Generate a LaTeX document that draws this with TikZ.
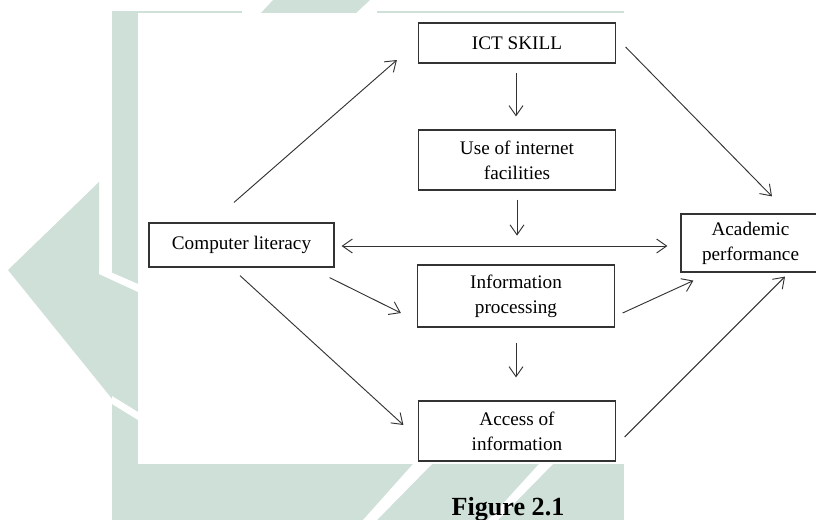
\documentclass[tikz,border=0pt]{standalone}
\usepackage{fontspec}
\setmainfont{Liberation Serif}
\usepackage{tikz}
\usetikzlibrary{arrows.meta, calc}
\definecolor{filigrane}{RGB}{206,224,215}
\tikzstyle{box} = [rectangle, 
minimum width=147.75pt, 
minimum height=45pt,
inner sep=0pt,
align=center, 
font=\fontsize{14.4}{18.75}\selectfont,
line width=0.9pt,
draw=black!80]
\tikzstyle{arrow} = [line width=0.7pt, draw=black!80, -{Straight Barb[length=7.5pt,width=10.5pt]}]
\tikzstyle{arrowboth} = [line width=0.7pt, draw=black!80, {Straight Barb[length=7.5pt,width=10.5pt]}-{Straight Barb[length=7.5pt,width=10.5pt]}]

\begin{document}
\begin{tikzpicture}[x=0.75pt, y=-0.75pt]
\useasboundingbox (0,0) rectangle (816,520);

% Filigrane en arriere-plan
\fill[filigrane] (112,11) rectangle (624,520); % bande autour du cadre
\fill[filigrane] (99,182) -- (8,270) -- (99,270) -- cycle; % triangle gauche
\fill[filigrane] (8,270) -- (99,270) -- (138,288) -- (138,418) -- (113,400) -- cycle; % bande basse
\fill[white] (99,267) -- (138,284) -- (138,292) -- (99,274) -- cycle;
\fill[white] (112,396) -- (138,412) -- (138,420) -- (112,404) -- cycle;
\fill[white] (242,10) rectangle (377,13.5);
\fill[filigrane] (261,13) -- (273,0) -- (370,0) -- (356,13) -- cycle; % parallelogramme haut
\fill[white] (413,464) -- (432,464) -- (377,520) -- (363,520) -- cycle; % rayures bas
\fill[white] (539,464) -- (553,464) -- (498,520) -- (488,520) -- cycle;
\fill[white] (138,13) rectangle (624,464); % cadre blanc

% Boites
\node[box, minimum height=30pt] (ict) at (517,43) {ICT SKILL};
\node[box] (net) at (517,160) {Use of internet\\facilities};
\node[box, minimum width=138.75pt, minimum height=33pt] (cl) at (241.5,245) {Computer literacy};
\node[box, minimum width=104.25pt, minimum height=43.5pt] (acad) at (750.5,243) {Academic\\performance};
\node[box, minimum height=46.5pt] (proc) at (516,296) {Information\\processing};
\node[box] (acc) at (517,431) {Access of\\information};

% Fleches
\draw[arrow] ($(cl.north)+(-7.5,-20)$) -- ($(ict.west)+(-21,17)$);
\draw[arrow] ($(ict.east)+(9.5,4)$) -- ($(acad.north)+(21.5,-17)$);
\draw[arrow] ($(ict.south)+(-1,9)$) -- ($(net.north)+(-1,-13)$);
\coordinate (mid) at ($(net.south)+(0,45)$);
\draw[arrow] ($(net.south)+(0,9)$) -- (mid);
\draw[arrowboth] ($(cl.east)+(7,1)$) -- ($(acad.west)+(-13,3)$);
\draw[arrow] ($(cl.south east)+(-5,10)$) -- ($(proc.west)+(-16,17)$);
\draw[arrow] ($(cl.south)+(-1.5,8)$) -- ($(acc.west)+(-14.5,-6)$);
\draw[arrow] ($(proc.south)+(0,15)$) -- ($(acc.north)+(-1,-23)$);
\draw[arrow] ($(proc.east)+(7.5,17)$) -- ($(acad.south west)+(13,8)$);
\draw[arrow] ($(acc.east)+(8.5,6)$) -- ($(acad.south)+(34.5,4)$);

% Titre
\node[anchor=base, font=\bfseries\fontsize{19.6}{22}\selectfont] (fig) at (508,515) {Figure 2.1};

\end{tikzpicture}
\end{document}
